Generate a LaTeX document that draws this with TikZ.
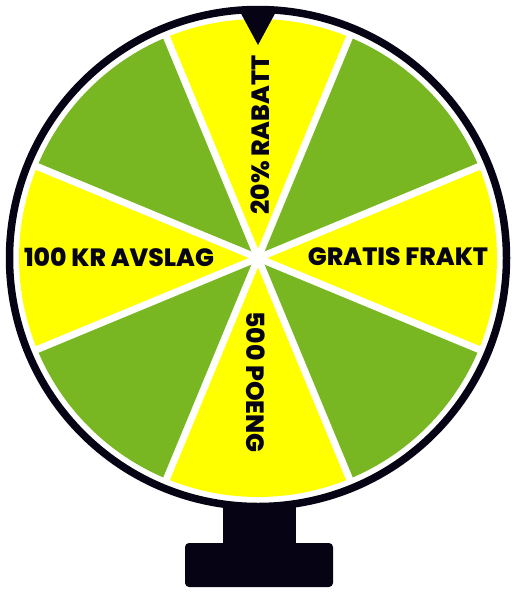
\documentclass[tikz,border=0pt]{standalone}
\usepackage{fontspec}
\IfFontExistsTF{Poppins ExtraBold}
  {\newfontfamily\wheelfont{Poppins ExtraBold}\def\wheelweight{}}
  {\newfontfamily\wheelfont{Poppins}\def\wheelweight{\bfseries}}
\definecolor{wgreen}{RGB}{120,183,34}
\definecolor{wyellow}{RGB}{255,255,0}
\definecolor{wblack}{RGB}{6,4,20}
\begin{document}
\begin{tikzpicture}[x=1pt,y=-1pt,
  wlabel/.style={font=\wheelfont\wheelweight\fontsize{25}{25}\selectfont, text=wblack, inner sep=0pt},
  spoke/.style={white, line width=7pt}]
\useasboundingbox (0,0) rectangle (516,592);
\coordinate (c) at (258,258);
% stand
\fill[wblack] (223,500) rectangle (296,546);
\fill[wblack, rounded corners=4pt] (185,543) rectangle (333,587);
% white disk
\fill[white] (c) circle[radius=246];
% sectors
\foreach \i in {0,...,7}{
  \pgfmathtruncatemacro{\odd}{mod(\i,2)}
  \ifnum\odd=0 \def\col{wyellow}\else\def\col{wgreen}\fi
  \fill[\col] (c) -- ++({45*\i-22.5}:239) arc[start angle={45*\i-22.5}, end angle={45*\i+22.5}, radius=239] -- cycle;
}
\foreach \i in {0,...,7}{
  \draw[spoke] (c) -- ++({45*\i+22.5}:242);
}
% ring
\draw[wblack, line width=7.5pt] (c) circle[radius=248.5];
% pointer
\fill[wblack] (238,8) -- (278,8) -- (258,45) -- cycle;
% labels
\node[wlabel] (tl) at (119,257) {100 KR AVSLAG};
\node[wlabel] (tr) at (398,257) {GRATIS FRAKT};
\node[wlabel, rotate=90] (tt) at (260,135) {20\% RABATT};
\node[wlabel, rotate=-90] (tb) at (256,382) {500 POENG};
\end{tikzpicture}
\end{document}
